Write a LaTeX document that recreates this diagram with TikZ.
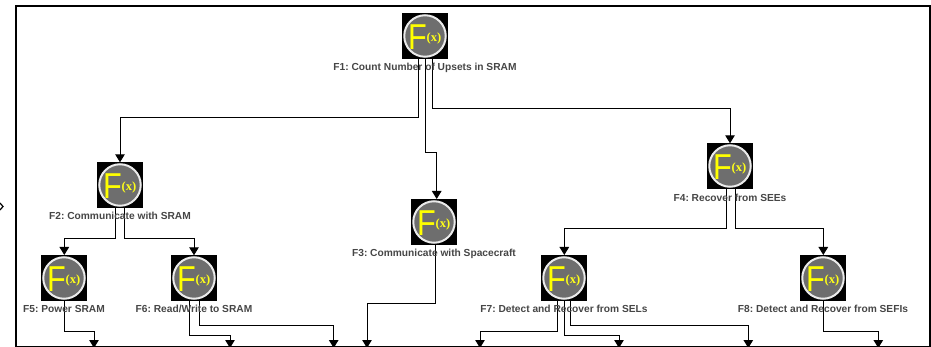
\documentclass[tikz,border=0pt]{standalone}
\usepackage{fontspec}
\setmainfont{Liberation Sans}
\usetikzlibrary{arrows.meta,calc}
\definecolor{iconyellow}{RGB}{255,255,0}
\definecolor{icongrey}{RGB}{110,110,110}
\definecolor{lblgrey}{RGB}{70,70,70}
\newfontfamily\iconserif{Liberation Serif}
\frenchspacing
% icon: name, position
\newcommand{\fctbox}[2]{%
  \node[fbox] (#1) at (#2) {};
  \node[fcircle] (#1c) at (#1) {};
  \node[fletter] (#1l) at ($(#1)+(-7.5,1.5)$) {\scalebox{0.85}[1]{F}};
  \node[farg] (#1a) at ($(#1)+(9,2)$) {(x)};
}
\begin{document}
\begin{tikzpicture}[
  x=1pt, y=-1pt,
  fbox/.style={draw=black, fill=black, minimum size=45pt, inner sep=0pt},
  fcircle/.style={circle, draw=white!92!black, fill=icongrey, line width=2pt,
    minimum size=41.5pt, inner sep=0pt},
  fletter/.style={font=\fontsize{36}{36}\selectfont, text=iconyellow, inner sep=0pt},
  farg/.style={font=\fontsize{12.5}{12.5}\selectfont\iconserif\bfseries, text=iconyellow!90!white, inner sep=0pt},
  lbl/.style={font=\fontsize{10.2}{11}\selectfont\bfseries, text=lblgrey, inner sep=0pt},
  arr/.style={-{Triangle[length=8pt,width=9.5pt]}, line width=1pt}
]
  \useasboundingbox (0,0) rectangle (931,347);

  \fctbox{f1}{425,36}
  \fctbox{f2}{120,185}
  \fctbox{f3}{434,222}
  \fctbox{f4}{730,166}
  \fctbox{f5}{64,278}
  \fctbox{f6}{194,278}
  \fctbox{f7}{564,278}
  \fctbox{f8}{823,278}

  % free ends at the lower edge
  \coordinate (e5) at (94,348);
  \coordinate (e6a) at (230,348);
  \coordinate (e6b) at (333.7,348);
  \coordinate (e3) at (367,348);
  \coordinate (e7a) at (480,348);
  \coordinate (e7b) at (619,348);
  \coordinate (e7c) at (748.3,348);
  \coordinate (e8) at (878.3,348);

  \draw[arr] ($(f1.south)+(-6.3,0)$) |- (120,117.3) -- (f2.north);
  \draw[arr] ($(f1.south)+(0.3,0)$) |- (436.7,153) -- (436.7,199);
  \draw[arr] ($(f1.south)+(7,0)$) |- (730,108.3) -- (f4.north);
  \draw[arr] ($(f2.south)+(-4.3,0)$) |- (64.3,238.3) -- (64.3,255);
  \draw[arr] ($(f2.south)+(4.7,0)$) |- (194,238.3) -- (f6.north);
  \draw[arr] ($(f4.south)+(-3.7,0)$) |- (564.3,228.7) -- (564.3,255);
  \draw[arr] ($(f4.south)+(5.7,0)$) |- (823.3,228.7) -- (823.3,255);
  \draw[arr] ($(f5.south)+(0.3,0)$) |- (94,331) -- (e5);
  \draw[arr] ($(f6.south)+(-4.7,0)$) |- (230,335.3) -- (e6a);
  \draw[arr] ($(f6.south)+(5,0)$) |- (333.7,325.5) -- (e6b);
  \draw[arr] ($(f3.south)+(1,0)$) |- (367,303.3) -- (e3);
  \draw[arr] ($(f7.south)+(-7,0)$) |- (480,331) -- (e7a);
  \draw[arr] ($(f7.south)+(0.3,0)$) |- (619,335.5) -- (e7b);
  \draw[arr] ($(f7.south)+(6.7,0)$) |- (748.3,325.5) -- (e7c);
  \draw[arr] ($(f8.south)+(0.3,0)$) |- (878.3,331) -- (e8);

  \node[lbl] (l1) at (425,67.5) {F1: Count Number of Upsets in SRAM};
  \node[lbl] (l2) at (120,215.5) {F2: Communicate with SRAM};
  \node[lbl] (l3) at (434,253.5) {F3: Communicate with Spacecraft};
  \node[lbl] (l4) at (730,197.5) {F4: Recover from SEEs};
  \node[lbl] (l5) at (64,308.5) {F5: Power SRAM};
  \node[lbl] (l6) at (194,308.5) {F6: Read/Write to SRAM};
  \node[lbl] (l7) at (564,308.5) {F7: Detect and Recover from SELs};
  \node[lbl] (l8) at (823,308.5) {F8: Detect and Recover from SEFIs};

  % outer frame
  \draw[line width=1.4pt] (16,348) -- (16,6) -- (930,6) -- (930,348);
  \draw[line width=1pt] (16,346.5) -- (930,346.5);
  \draw[line width=1.2pt] (0,203) -- (3,206.5) -- (0,210);
\end{tikzpicture}
\end{document}
